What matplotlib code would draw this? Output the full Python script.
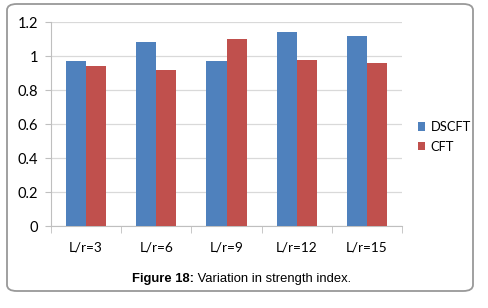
import numpy as np
import matplotlib
matplotlib.use("Agg")
import matplotlib.pyplot as plt
from matplotlib.patches import FancyBboxPatch

# datos
categorias = ["L/r=3", "L/r=6", "L/r=9", "L/r=12", "L/r=15"]
dscft = [0.97, 1.08, 0.97, 1.14, 1.12]
cft = [0.94, 0.92, 1.10, 0.975, 0.96]
yticks = [0, 0.2, 0.4, 0.6, 0.8, 1, 1.2]
ytick_labels = ["0", "0.2", "0.4", "0.6", "0.8", "1", "1.2"]

azul = "#4F81BD"
rojo = "#C0504D"
fuente = "Lato"

fig = plt.figure(figsize=(4.88, 3.08), dpi=100)

# marco redondeado
marco = FancyBboxPatch((7/488, 1 - 291/308), 466/488, 287/308,
                       boxstyle="round,pad=0,rounding_size=0.02",
                       transform=fig.transFigure, facecolor="none",
                       edgecolor="#999999", linewidth=1.3, zorder=-1)
fig.patches.append(marco)

ax = fig.add_axes([51/488, 1 - 226/308, 351/488, 204/308])
ax.set_facecolor("none")

x = np.arange(len(categorias))
ancho = 1/3.5
ax.bar(x - ancho/2, dscft, ancho, color=azul, label="DSCFT", zorder=3)
ax.bar(x + ancho/2, cft, ancho, color=rojo, label="CFT", zorder=3)

ax.set_xlim(-0.5, len(categorias) - 0.5)
ax.set_ylim(0, 1.2)
ax.set_yticks(yticks)
ax.set_yticklabels(ytick_labels, fontsize=10.5, family=fuente)
ax.set_xticks(x)
ax.set_xticklabels(categorias, fontsize=9.8, family=fuente)
ax.set_xticks(np.arange(len(categorias) + 1) - 0.5, minor=True)
ax.tick_params(axis="x", which="major", length=0, pad=11)
ax.tick_params(axis="x", which="minor", length=5, color="#BFBFBF", direction="out")
ax.tick_params(axis="y", length=4, color="#BFBFBF", pad=5)

ax.grid(axis="y", color="#D9D9D9", linewidth=0.9, zorder=0)
for lado in ["top", "right"]:
    ax.spines[lado].set_visible(False)
ax.spines["left"].set_color("#BFBFBF")
ax.spines["bottom"].set_color("#BFBFBF")

ax.legend(loc="center left", bbox_to_anchor=(406/488, 1 - 137/308),
          bbox_transform=fig.transFigure, frameon=False,
          handlelength=0.6, handleheight=0.6, handletextpad=0.4,
          labelspacing=0.6, prop={"family": fuente, "size": 9.3})

# leyenda de la figura
t1 = fig.text(132/488, 1 - 282/308, "Figure 18:", fontsize=9.4,
              fontweight="bold", family="Liberation Sans", ha="left", va="baseline")
ax.annotate(" Variation in strength index.", xy=(1, 0), xycoords=t1,
            fontsize=9.4, family="Liberation Sans", ha="left", va="bottom",
            annotation_clip=False)

fig.savefig("out.png", dpi=100)
